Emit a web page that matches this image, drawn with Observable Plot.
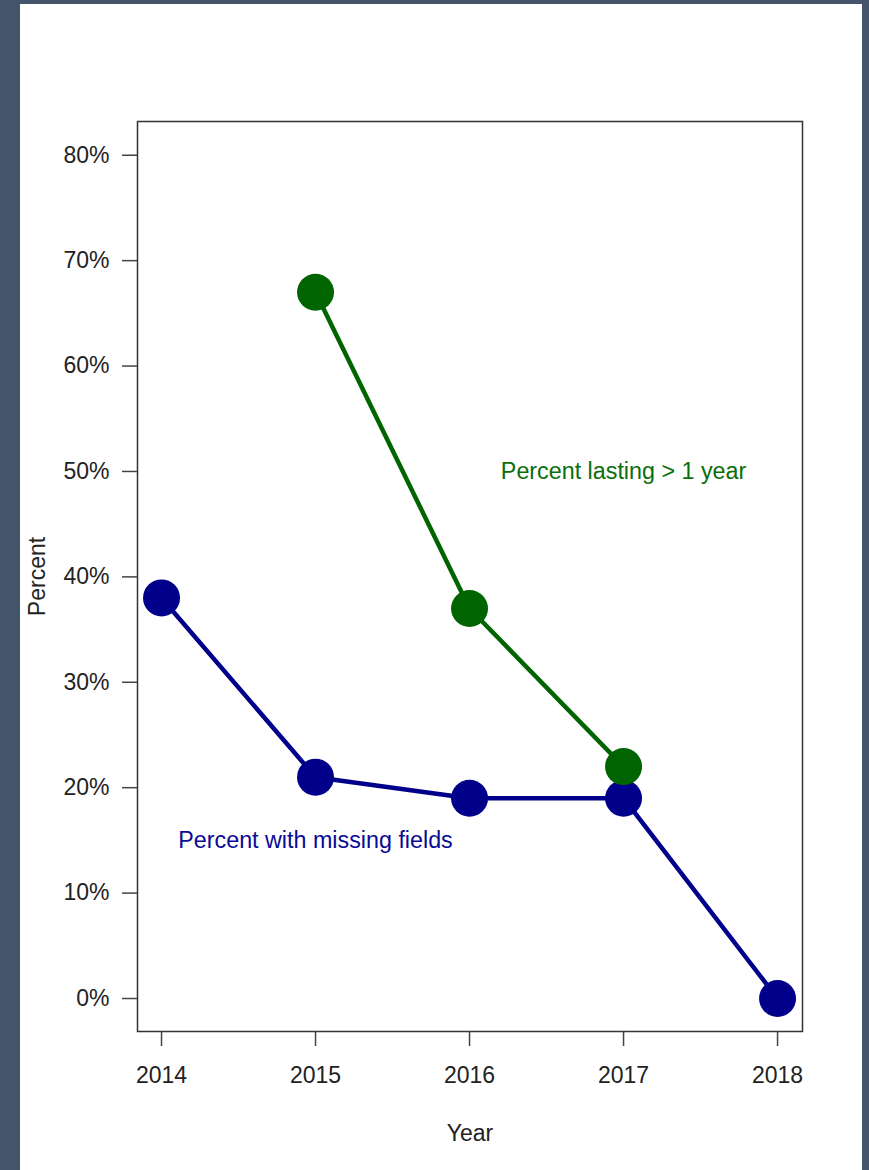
<!DOCTYPE html>
<html><head><meta charset="utf-8">
<script src="https://cdn.jsdelivr.net/npm/d3@7"></script>
<script src="https://cdn.jsdelivr.net/npm/@observablehq/plot@0.6"></script>
<style>
html,body{margin:0;padding:0;background:#44546a;width:869px;height:1170px;overflow:hidden;}
#panel{position:absolute;left:20px;top:4px;width:842px;height:1166px;background:#fff;}
</style></head><body><div id="panel"></div>
<script>
const years = [2014, 2015, 2016, 2017, 2018];
const missingPct = [38, 21, 19, 19, 0];
const lastingYears = [2015, 2016, 2017];
const lastingPct = [67, 37, 22];
const yTicks = [0, 10, 20, 30, 40, 50, 60, 70, 80];
const labels = [
  {year: 2015, pct: 15, text: "Percent with missing fields", color: "#0a0a95"},
  {year: 2017, pct: 50, text: "Percent lasting > 1 year", color: "#0a6e0a"}
];

const missing = years.map((y, i) => ({year: y, pct: missingPct[i]}));
const lasting = lastingYears.map((y, i) => ({year: y, pct: lastingPct[i]}));

const chart = Plot.plot({
  width: 842,
  height: 1166,
  marginLeft: 117,
  marginRight: 60,
  marginTop: 117,
  marginBottom: 139,
  style: {fontFamily: "'Liberation Sans', Arial, sans-serif", fontSize: "23px", color: "#222", background: "transparent"},
  x: {domain: [2013.844, 2018.162]},
  y: {domain: [-3.13, 83.2]},
  marks: [
    Plot.frame({stroke: "#333", strokeWidth: 1.5}),
    Plot.axisY({ticks: yTicks, tickSize: 15, tickPadding: 13, tickFormat: d => d + "%", stroke: "#444", strokeWidth: 1.5,
      label: "Percent", labelAnchor: "center", labelArrow: "none", labelOffset: 109}),
    Plot.axisX({ticks: years, tickSize: 15, tickPadding: 20, tickFormat: d => String(d), stroke: "#444", strokeWidth: 1.5,
      label: "Year", labelAnchor: "center", labelArrow: "none", labelOffset: 109}),
    Plot.line(missing, {x: "year", y: "pct", stroke: "#00008B", strokeWidth: 4.5}),
    Plot.line(lasting, {x: "year", y: "pct", stroke: "#006400", strokeWidth: 4.5}),
    Plot.dot(missing, {x: "year", y: "pct", r: 18.5, fill: "#00008B", stroke: "none"}),
    Plot.dot(lasting, {x: "year", y: "pct", r: 18.5, fill: "#006400", stroke: "none"}),
    Plot.text(labels, {x: "year", y: "pct", text: "text", fill: "color", fontSize: 23.3})
  ]
});
document.getElementById("panel").appendChild(chart);
</script>
</body></html>
